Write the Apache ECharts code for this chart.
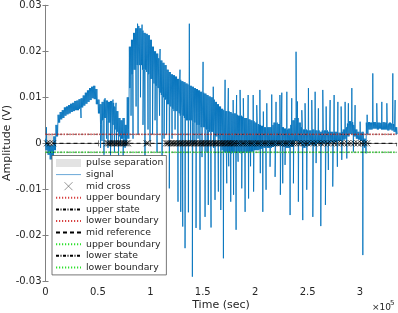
<!DOCTYPE html>
<html><head><meta charset="utf-8">
<script src="https://cdn.jsdelivr.net/npm/echarts@6/dist/echarts.min.js"></script>
<style>html,body{margin:0;padding:0;background:#fff}#c{width:398px;height:313px}</style>
</head><body><div id="c"></div>
<script>
// ---- tick labels ----
const xTickLabels = ['0','0.5','1','1.5','2','2.5','3'];
const yTickLabels = ['-0.03','-0.02','-0.01','0','0.01','0.02','0.03'];

// ---- dense band of the signal, per bin of 0.02 (x1e5 sec); values in mV ----
const BIN = 0.02;
const bandHiMV = [
 1,0,-0.5,-0.5,1.5,4,6.2,6.8,7.2,7.8,
 8,8.3,8.6,8.8,9.2,9.3,9.6,9.8,10.4,11,
 11.5,12,12.3,12.5,11.8,9.5,8.5,9,9.5,9.3,
 9,9.2,8.8,8,7,5.5,5,5.5,4,10,
 21,22.5,24,25,25.5,25,24.5,24,23.8,23.5,
 22.5,21,20,19.5,18.5,18,17.5,17,16,15.5,
 15,14.8,14.5,14,13.8,13.5,13.3,13,12.8,12.5,
 12.3,12,11.8,11.5,11.2,11,10.8,10.5,10.2,10,
 9.5,9,8.5,8,7.5,7.2,7,7,6.8,6.5,
 6.5,6.2,6,6,5.8,5.5,5.5,5.2,5,4.8,
 4.5,4.2,4,3.8,3.5,3.5,3.5,3.5,4,4.5,
 4.5,4.2,4,3.5,3.2,3,3.2,4,5,5.5,
 5.5,4.5,3.5,3,3,2.8,2.8,3,3,2.8,
 2.8,2.5,2.8,2.8,2.8,2.5,2.5,2.5,2.5,2.5,
 2.3,2.5,3,3.5,4.3,4.8,4.6,4,3,2.5,
 2.3,2.5,1,4.5,4.6,4.5,4.6,4.6,4.5,4.5,
 4.4,4.6,4.5,4.3,4.5,4.3,4.2,3.5
];
const bandLoMV = [
 -1.5,-2.5,-3.5,-3,-1.5,1.5,4.5,5.2,5.5,6,
 6.3,6.5,6.8,7,7.2,7.2,7.5,7.8,8.2,8.6,
 9,9.4,9.8,9.6,8.5,6.5,4,5,5.5,5,
 4.5,4,4,3,2.5,1.5,1,1,0.5,1,
 12,15,16,17,17,17,16,16,15.5,15,
 14,13,12.5,12,11,10.5,10,9.5,8.5,8,
 7.5,7,7,6.5,6,6,5.5,5,5,5,
 4.5,4.5,4,4,3.5,3.5,3,3,2.5,2.5,
 2,1.5,1,0.5,-1.5,-2,-2,-2,-2.2,-2,
 -2,-2,-2,-2.2,-2,-2,-2,-1.8,-1.8,-1.5,
 -1.5,-1.5,-1.2,-1.2,-1,-1,-1,-1,-0.8,-0.5,
 -0.5,-0.5,-0.5,-0.8,-1,-1,-1,-0.8,0,0.5,
 0.5,0,-0.5,-1,-0.5,-0.5,-0.3,0,-0.5,0,
 0,-0.5,0,0,0,0,0.3,0,0.3,0.5,
 0.5,0.5,0.8,1,1.5,2,2,1.5,1,0.8,
 0.5,0,-1,2,3,3,3.2,3.2,3,3.2,
 3,3,3,2.8,3,2.8,2.5,2
];

// ---- isolated spikes of the signal: time (x1e5 sec) and value (mV) ----
const spikeT = [
 0.0095,0.339,
 0.525,0.539,0.558,0.568,0.582,0.596,0.620,0.635,0.644,0.658,0.673,0.677,0.697,0.716,0.740,0.759,0.773,
 0.792,0.816,0.835,0.864,0.878,0.883,0.906,0.921,0.930,0.949,0.978,0.997,1.021,1.045,1.064,1.088,1.093,
 1.112,1.131,1.155,1.181,1.207,1.236,1.264,1.283,1.290,1.309,1.331,1.363,1.372,1.384,1.401,1.417,1.436,
 1.455,1.474,1.493,1.503,1.522,1.541,1.553,1.579,1.600,1.604,1.617,1.649,1.672,
 1.697,1.713,1.729,1.744,1.748,1.767,1.790,1.794,1.818,1.823,1.837,1.856,1.872,1.887,1.904,1.933,1.937,
 1.956,1.981,1.985,2.015,2.045,2.049,2.073,2.078,2.104,2.111,2.142,2.158,2.190,2.199,2.236,2.240,2.254,
 2.263,2.285,2.302,2.333,2.349,2.365,2.390,2.403,2.412,
 2.445,2.454,2.476,2.492,2.508,2.540,2.550,2.572,2.581,2.603,2.626,2.645,2.670,2.677,2.698,2.715,2.740,
 2.753,2.784,2.789,2.820,2.826,2.858,2.874,2.889,2.922,2.937,2.953,3.001,3.027,3.058,3.068,
 3.122,3.160,3.208,3.256,3.313,3.335
];
const spikeMV = [
 3.5,5.5,
 -1,0.5,-2.5,9.8,1,-1,-3,0,9.5,-2,8.8,0,-3,-0.5,-3.5,-1,-0.5,
 3,6,1,8,26,2,10,25.8,4,-3,3,0.5,2,5,-2,6,20.5,
 -4,1,2,-9.8,1,3,-12.7,16,-14.9,-18.1,-22.8,-15,26,0,-29,0,-18.4,
 1,-18.8,-3,17.7,-16,-2,-13.4,-18.3,12.3,-1,-12.3,-10.5,-14.5,
 -25,13.8,-8.7,12,-5,-12.7,9.4,-11.2,-18.8,10.5,-4,11.6,-9.8,9.8,-14.9,10.5,-12,
 -5,10.5,-10.5,8.3,11.6,-6.5,-14.9,6.9,-10.1,8.7,-5.1,10.6,-7.3,9,10.5,-11.2,11,
 -8.7,-4.7,11.2,-15.6,9.8,-8.7,19.9,9.1,-12.7,
 7.2,-16.7,8.7,-10.1,12,9.4,-16,11.2,-4.3,7.6,-18,11.6,-13.4,8,-5.8,9.4,-9.4,
 10.5,-5.1,9,8,-3.6,9,-3.3,8.7,12,-1.8,8.3,4.7,-24.3,-2.2,6.2,
 15.2,8.7,9,8.7,15.2,9.4
];

// ---- mid-reference crossings (x1e5 sec) ----
const midCrossT = [
 0.014,0.043,0.072,
 0.587,0.601,0.616,0.630,0.645,0.658,0.672,0.688,0.701,0.716,0.729,0.745,0.758,0.774,0.787,
 0.964,0.978,
 1.150,1.165,1.177,1.194,1.206,1.222,1.235,1.251,1.263,1.280,1.292,1.308,1.320,1.337,1.349,1.365,
 1.378,1.394,1.406,1.423,1.435,1.451,1.464,1.480,1.492,1.509,1.521,1.537,1.549,1.566,1.578,1.594,
 1.607,1.623,1.635,1.652,1.664,1.680,1.693,1.709,1.721,1.738,1.750,1.766,1.779,1.795,1.808,
 1.832,1.851,1.875,1.894,1.918,1.937,1.961,1.980,2.004,2.028,2.047,2.071,2.094,2.114,2.137,2.161,
 2.180,2.204,2.228,2.247,2.271,2.295,2.314,2.338,2.362,2.385,2.409,
 2.438,2.467,2.500,2.533,2.562,2.595,2.629,2.657,2.691,2.724,2.753,2.786,2.820,2.848,2.882,2.915,
 2.944,2.977,3.010,3.044,3.068
];

// ---- pulse separation patch ----
const sepStartT = [0];
const sepEndT = [0.075];

// ---- reference levels (V) ----
const levelKeys   = ['ub_up','us','lb_up','midref','ub_lo','ls','lb_lo'];
const levelLabels = ['upper boundary','upper state','lower boundary','mid reference','upper boundary','lower state','lower boundary'];
const levelValues = [0.00203, 0.00195, 0.00187, 0, -0.00187, -0.00195, -0.00203];

const X_MAX = 3.35;
const FONT = 'DejaVu Sans';
const TXT = '#262626';
const AX = '#808080';

// build the signal polyline: dense zig-zag inside the band, plus spikes, in time order
const pts = [];
for (let i = 0; i < bandHiMV.length; i++) {
  const t0 = i * BIN;
  pts.push([t0, bandHiMV[i] / 1000]);
  pts.push([t0 + BIN * 0.25, bandLoMV[i] / 1000]);
  pts.push([t0 + BIN * 0.5, bandHiMV[i] / 1000]);
  pts.push([t0 + BIN * 0.75, bandLoMV[i] / 1000]);
}
for (let k = 0; k < spikeT.length; k++) pts.push([spikeT[k], spikeMV[k] / 1000]);
pts.sort((a, b) => a[0] - b[0]);

const levelStyles = {
  ub_up: {color:'#d84040', type:[1.2,1.8], width:1},
  us:    {color:'#000', type:[3,1.5,1,1.5], width:0.6},
  lb_up: {color:'#d84040', type:[1.2,1.8], width:1},
  midref:{color:'#000', type:[4,3], width:1},
  ub_lo: {color:'#2ee02e', type:[1.2,1.8], width:1},
  ls:    {color:'#000', type:[3,1.5,1,1.5], width:0.6},
  lb_lo: {color:'#2ee02e', type:[1.2,1.8], width:1}
};

const labelMap = {'pulse separation':'pulse separation','signal':'signal','mid cross':'mid cross'};
levelKeys.forEach((k, i) => labelMap[k] = levelLabels[i]);

const X_PATH = 'path://M0,0L10,10M10,0L0,10';
const HIDE = {color:'rgba(0,0,0,0)', borderColor:'rgba(0,0,0,0)', borderWidth:0};

const series = [];
series.push({
  type:'custom', name:'pulse separation', z:1, silent:true,
  itemStyle:{color:'#e3e3e3'},
  data: sepStartT.map((s, i) => [s, sepEndT[i], levelValues[6], levelValues[0]]),
  renderItem: (params, api) => {
    const p0 = api.coord([api.value(0), api.value(3)]);
    const p1 = api.coord([api.value(1), api.value(2)]);
    return {type:'rect', shape:{x:p0[0], y:p0[1], width:p1[0]-p0[0], height:p1[1]-p0[1]}, style:{fill:'#e3e3e3'}};
  }
});
series.push({
  type:'line', name:'signal', data: pts, symbol:'none', z:2, silent:true,
  lineStyle:{color:'#0072BD', width:0.85}, itemStyle:{color:'#0072BD'}, sampling:null
});
levelKeys.forEach((k, i) => {
  series.push({
    type:'line', name:k, symbol:'none', z:3, silent:true,
    data:[[0, levelValues[i]], [X_MAX, levelValues[i]]],
    lineStyle: levelStyles[k], itemStyle:{color: levelStyles[k].color}
  });
});
series.push({
  type:'scatter', name:'mid cross', symbol: X_PATH, symbolSize:6, z:4, silent:true,
  data: midCrossT.map(t => [t, levelValues[3]]),
  itemStyle:{color:'rgba(0,0,0,0)', borderColor:'#000', borderWidth:0.9}
});

const baseAxis = {
  axisLine:{show:true, lineStyle:{color:AX, width:1}},
  axisTick:{show:true, inside:true, length:3, lineStyle:{color:AX}},
  splitLine:{show:false}
};

const option = {
  animation:false,
  grid:{left:45.5, top:5.3, width:351.2, height:276, containLabel:false},
  xAxis:[
    Object.assign({}, baseAxis, {type:'value', position:'bottom', min:0, max:X_MAX, interval:0.5,
      axisLabel:{show:true, margin:6, fontFamily:FONT, fontSize:10, color:TXT, showMaxLabel:false,
        formatter: v => xTickLabels[Math.round(v/0.5)] || ''}}),
    Object.assign({}, baseAxis, {type:'value', position:'top', min:0, max:X_MAX, interval:0.5, axisLabel:{show:false}})
  ],
  yAxis:[
    Object.assign({}, baseAxis, {type:'value', position:'left', min:-0.03, max:0.03, interval:0.01,
      axisLabel:{show:true, margin:4, fontFamily:FONT, fontSize:10, color:TXT,
        formatter: v => yTickLabels[Math.round((v+0.03)/0.01)] || ''}}),
    Object.assign({}, baseAxis, {type:'value', position:'right', min:-0.03, max:0.03, interval:0.01, axisLabel:{show:false}})
  ],
  legend:{
    orient:'vertical', left:52, top:155.5, itemWidth:25, itemHeight:8, itemGap:2.6,
    padding:[3,3,3,3], backgroundColor:'#fff', borderColor:'#555', borderWidth:0.8,
    textStyle:{fontFamily:FONT, fontSize:9.3, color:TXT},
    formatter: n => labelMap[n] || n,
    selectedMode:false,
    data:[
      {name:'pulse separation', icon:'rect', itemStyle:{color:'#e3e3e3'}},
      {name:'signal', itemStyle:HIDE, lineStyle:{color:'#6aa8d8', width:1}},
      {name:'mid cross', itemStyle:{color:'rgba(0,0,0,0)', borderColor:'#444', borderWidth:0.7}},
      ...levelKeys.map(k => ({name:k, itemStyle:HIDE}))
    ]
  },
  graphic:[
    {type:'text', x:7, y:143, rotation:Math.PI/2, style:{text:'Amplitude (V)', font:'11px "DejaVu Sans"', fill:TXT, textAlign:'center', textVerticalAlign:'middle'}},
    {type:'text', x:221, y:305, style:{text:'Time (sec)', font:'11px "DejaVu Sans"', fill:TXT, textAlign:'center', textVerticalAlign:'middle'}},
    {type:'text', x:372, y:308, style:{text:'\u00d710', font:'9px "DejaVu Sans"', fill:TXT, textAlign:'left', textVerticalAlign:'middle'}},
    {type:'text', x:390, y:303, style:{text:'5', font:'7px "DejaVu Sans"', fill:TXT, textAlign:'left', textVerticalAlign:'middle'}}
  ],
  series: series
};

const chart = echarts.init(document.getElementById('c'), null, {renderer:'canvas'});
chart.setOption(option);
</script>
</body></html>
